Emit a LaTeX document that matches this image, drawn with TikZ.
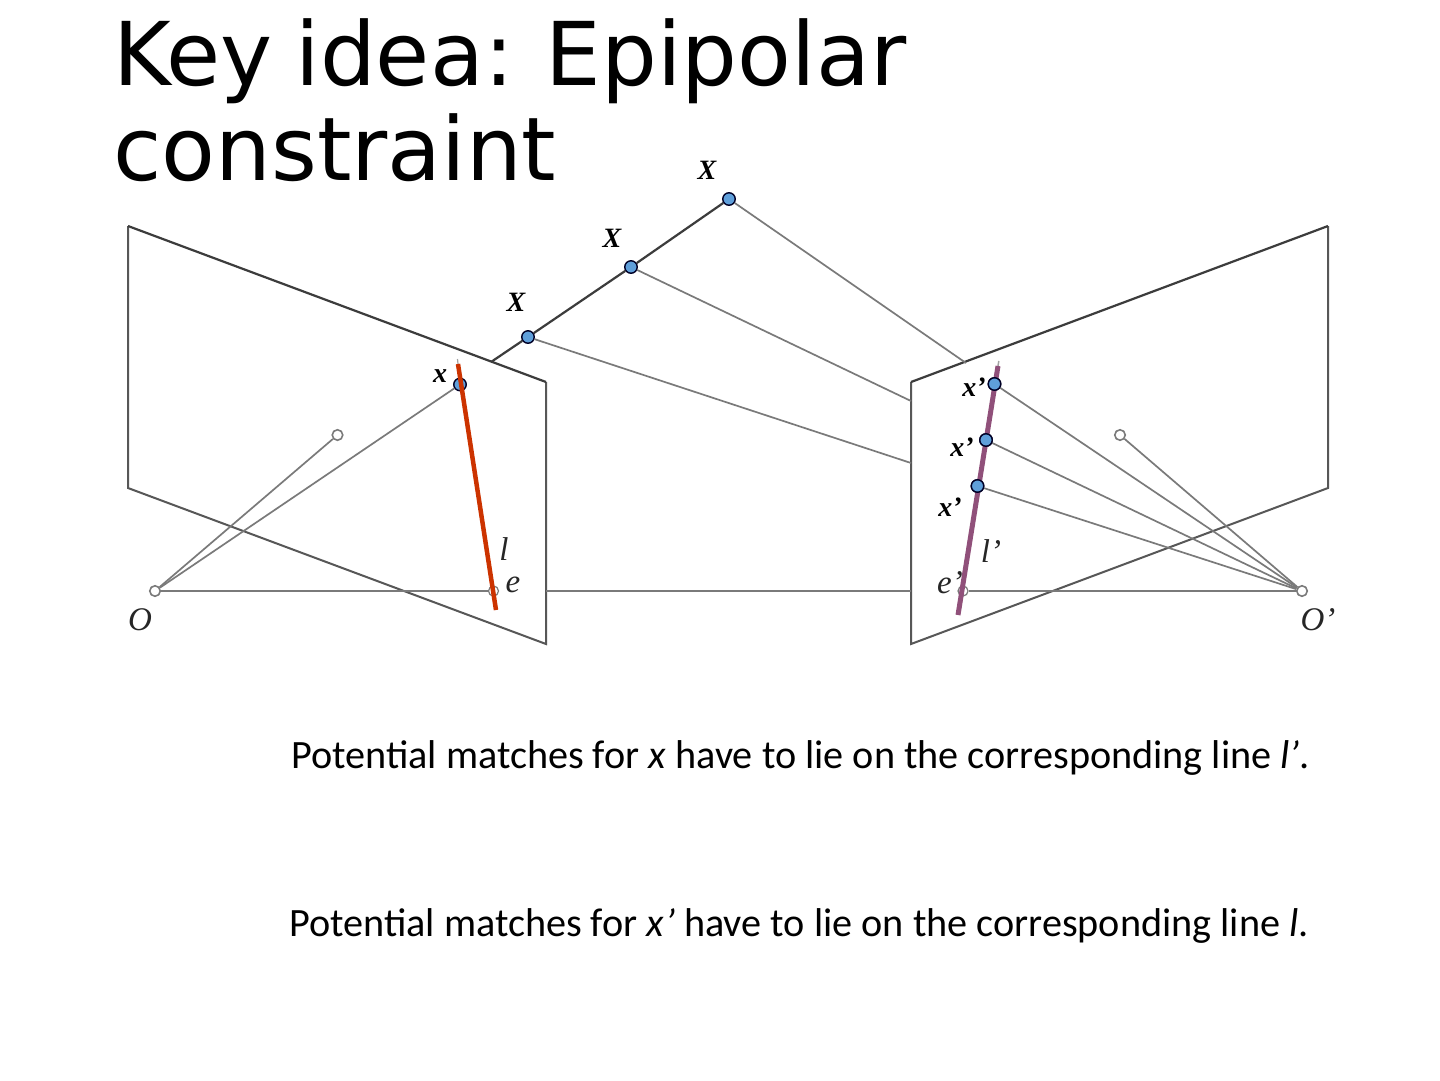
\documentclass[tikz,border=0pt]{standalone}
\usepackage{fontspec}
\setmainfont{Carlito}
\newfontfamily\titlefont[WordSpace=0.82]{DejaVu Sans}
\newfontfamily\labelfont{Liberation Serif}
\definecolor{ptblue}{HTML}{5F9FDA}
\definecolor{redline}{HTML}{CC3300}
\definecolor{purpline}{HTML}{90507A}
\definecolor{rayc}{HTML}{7A7A7A}
\definecolor{edgec}{HTML}{3C3C3C}
\tikzset{
  ptnode/.style={circle,draw=black!85!blue,fill=ptblue,line width=1.4pt,inner sep=0pt,minimum size=12.5pt},
  opennode/.style={circle,draw=rayc,fill=white,line width=1.6pt,inner sep=0pt,minimum size=10.5pt},
  ghostnode/.style={circle,draw=rayc,line width=1.2pt,inner sep=0pt,minimum size=10pt},
  ray/.style={draw=rayc,line width=1.7pt},
  plane/.style={draw=edgec!60!gray,line width=2pt,line join=miter},
  topedge/.style={draw=edgec,line width=2.2pt},
  strongray/.style={draw=edgec,line width=2.2pt},
  boldlabel/.style={font=\labelfont\bfseries\itshape\fontsize{28}{28}\selectfont,text=black,inner sep=0pt},
  thinlabel/.style={font=\labelfont\itshape\fontsize{33}{33}\selectfont,text=black!85,inner sep=0pt},
  bodytext/.style={font=\fontsize{40.2}{40.2}\selectfont,text=black,inner sep=0pt,anchor=base west},
}
\begin{document}
\begin{tikzpicture}[x=1pt,y=-1pt]
\useasboundingbox[fill=white] (0,0) rectangle (1440,1080);
% anchor points
\coordinate (LA) at (128,226);
\coordinate (LB) at (546,382);
\coordinate (LC) at (546,644);
\coordinate (LD) at (128,488);
\coordinate (RA) at (1328,226);
\coordinate (RB) at (911,382);
\coordinate (RC) at (911,644);
\coordinate (RD) at (1328,488);
\coordinate (hit0) at (491,362);
\coordinate (hit1) at (966,363);
\coordinate (hit2) at (911,401);
\coordinate (hit3) at (911,463);
\coordinate (baseL) at (546,591);
\coordinate (baseR) at (911,591);
\coordinate (redA) at (458,364);
\coordinate (redB) at (496,610);
\coordinate (purA) at (998,366);
\coordinate (purB) at (958,615);
\coordinate (redTip) at (457.5,359);
\coordinate (purTip) at (998.8,361);
% points
\node[ptnode] (X1) at (729,199) {};
\node[ptnode] (X2) at (631,267) {};
\node[ptnode] (X3) at (528,337) {};
\node[opennode] (O) at (155,591) {};
\node[opennode] (Op) at (1302,591) {};
\node[opennode] (a) at (337.5,435) {};
\node[opennode] (b) at (1120,435) {};
% planes
\draw[plane] (LA) -- (LD) -- (LC) -- (LB);
\draw[topedge] (LA) -- (LB);
\draw[plane] (RA) -- (RD) -- (RC) -- (RB);
\draw[topedge] (RA) -- (RB);
% rays
\draw[strongray] (X1) -- (X2);
\draw[strongray] (X2) -- (X3);
\draw[strongray] (X3) -- (hit0);
\draw[ray] (X1) -- (hit1);
\draw[ray] (X2) -- (hit2);
\draw[ray] (X3) -- (hit3);
\node[ptnode] (xL) at (460,384.5) {};
\node[ptnode] (x1) at (994.5,384) {};
\node[ptnode] (x2) at (986,440) {};
\node[ptnode] (x3) at (977.5,486) {};
\node[ghostnode] (e) at (493.5,591) {};
\node[ghostnode] (ep) at (963,591) {};
\draw[ray] (O) -- (a);
\draw[ray] (O) -- (xL);
\draw[ray] (O) -- (e);
\draw[ray] (baseL) -- (baseR);
\draw[ray] (ep) -- (Op);
\draw[ray] (Op) -- (b);
\draw[ray] (Op) -- (x1);
\draw[ray] (Op) -- (x2);
\draw[ray] (Op) -- (x3);
% epipolar lines
\draw[rayc!70,line width=1.2pt] (redTip) -- (redA);
\draw[rayc!70,line width=1.5pt] (purTip) -- (purA);
\draw[redline,line width=4.5pt] (redA) -- (redB);
\draw[purpline,line width=5pt] (purA) -- (purB);
\node[ptnode] (x1top) at (x1) {};
\node[ptnode] (x2top) at (x2) {};
\node[ptnode] (x3top) at (x3) {};
% labels
\node[boldlabel] (lX1) at (707,170) {X};
\node[boldlabel] (lX2) at (612,238) {X};
\node[boldlabel] (lX3) at (516,302) {X};
\node[boldlabel] (lx) at (440,376) {x};
\node[boldlabel] (lx1) at (974,387) {x’};
\node[boldlabel] (lx2) at (962,447) {x’};
\node[boldlabel] (lx3) at (950,507) {x’};
\node[thinlabel] (ll) at (504,549) {l};
\node[thinlabel] (le) at (513,585) {e};
\node[thinlabel] (lO) at (140,620) {O};
\node[thinlabel] (llp) at (991,551) {l’};
\node[thinlabel] (lep) at (950,583) {e’};
\node[thinlabel] (lOp) at (1318,620) {O’};
% title
\node[font=\titlefont\fontsize{88}{93}\selectfont,anchor=base west,inner sep=0pt,text=black] (t1) at (113,85) {Key idea: Epipolar};
\node[font=\titlefont\fontsize{88}{93}\selectfont,anchor=base west,inner sep=0pt,text=black] (t2) at (113,180) {constraint};
% body
\node[bodytext] (p1) at (291,768.5) {Potential matches for \textit{x} have to lie on the corresponding line \textit{l’}.};
\node[bodytext] (p2) at (289,936.5) {Potential matches for \textit{x’} have to lie on the corresponding line \textit{l}.};
\end{tikzpicture}
\end{document}
